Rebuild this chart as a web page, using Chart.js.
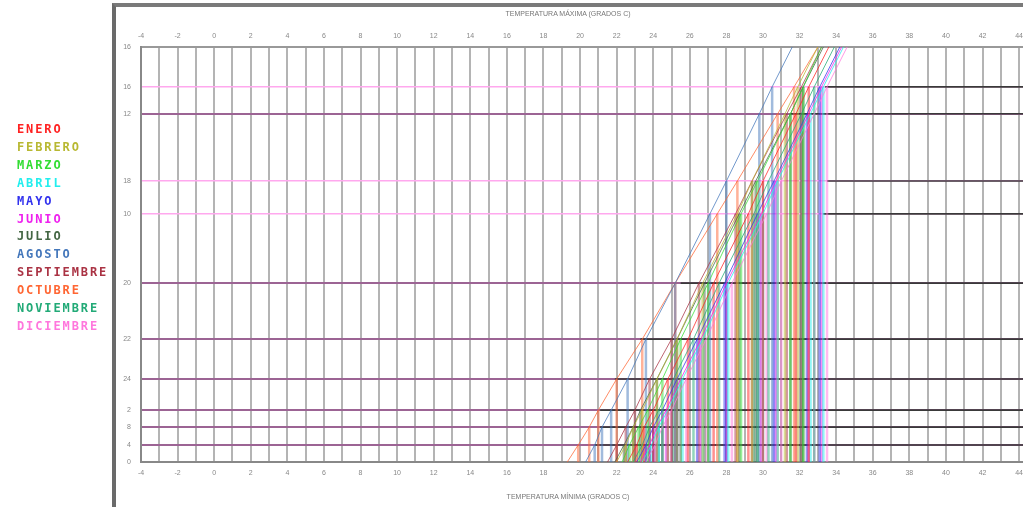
<!DOCTYPE html>
<html>
<head>
<meta charset="utf-8">
<script src="https://cdn.jsdelivr.net/npm/chart.js@4.4.1/dist/chart.umd.min.js"></script>
<style>
  html, body { margin:0; padding:0; background:#fff; overflow:hidden; width:1023px; height:507px; }
  #wrap { position:relative; width:1023px; height:507px; overflow:hidden; }
  #c { position:absolute; left:0; top:0; }
  #frame { position:absolute; left:112px; top:3px; width:1000px; height:500px;
           border-left:4px solid #6a6a6a; border-top:4px solid #7a7a7a; border-bottom:2px solid #9a9a9a; }
  .ttl { position:absolute; font-family:"Liberation Sans", Arial, sans-serif; font-size:7px; color:#777;
         width:300px; text-align:center; left:418px; white-space:nowrap; }
  #legend { position:absolute; left:17px; top:121px; font-family:"DejaVu Sans Mono", monospace;
            font-weight:bold; font-size:12px; letter-spacing:1.9px; line-height:17.9px; }
</style>
</head>
<body>
<div id="wrap">
  <canvas id="c" width="1090" height="507"></canvas>
  <div id="frame"></div>
  <div class="ttl" style="top:10px;">TEMPERATURA MÁXIMA (GRADOS C)</div>
  <div class="ttl" style="top:493px;">TEMPERATURA MÍNIMA (GRADOS C)</div>
  <div id="legend"></div>
</div>
<script>
// ---- data ----
const months = ['ENERO','FEBRERO','MARZO','ABRIL','MAYO','JUNIO','JULIO','AGOSTO','SEPTIEMBRE','OCTUBRE','NOVIEMBRE','DICIEMBRE'];
const monthColors = ['#ff2222','#b8b832','#33dd33','#22eeee','#3333ee','#ee22ee','#446644','#4477bb','#aa3344','#ff6633','#22aa77','#ff77dd'];

// positions of the horizontal levels on the vertical axis and their printed labels
const levelValues = [0, 4.1, 8.4, 12.5, 20, 29.6, 43.1, 59.8, 67.7, 83.9, 90.4, 100];
const levelLabels = ['0','4','8','2','24','22','20','10','18','12','16','16'];
const levelKind   = ['edge','purple','purple','purple','purple','purple','purple','pink','pink','purple','pink','edge'];

// x (temperature) of each month's line at every level
const ENERO      = [22.6, 23.1, 23.5, 24.0, 24.8, 25.9, 27.3, 29.2, 30.0, 31.8, 32.5, 33.6];
const FEBRERO    = [22.0, 22.5, 22.9, 23.4, 24.2, 25.3, 26.7, 28.6, 29.4, 31.2, 31.9, 33.0];
const MARZO      = [22.3, 22.7, 23.2, 23.7, 24.5, 25.5, 27.0, 28.8, 29.7, 31.5, 32.2, 33.2];
const ABRIL      = [23.4, 23.9, 24.3, 24.8, 25.6, 26.7, 28.1, 30.0, 30.8, 32.6, 33.3, 34.4];
const MAYO       = [23.1, 23.6, 24.0, 24.5, 25.3, 26.4, 27.9, 29.7, 30.6, 32.4, 33.1, 34.2];
const JUNIO      = [23.3, 23.8, 24.2, 24.7, 25.5, 26.6, 28.0, 29.9, 30.7, 32.5, 33.2, 34.3];
const JULIO      = [21.9, 22.4, 22.9, 23.3, 24.2, 25.3, 26.8, 28.7, 29.6, 31.5, 32.2, 33.3];
const AGOSTO     = [20.3, 20.8, 21.2, 21.7, 22.6, 23.6, 25.2, 27.1, 28.0, 29.8, 30.5, 31.6];
const SEPTIEMBRE = [21.5, 22.0, 22.5, 23.0, 23.8, 25.0, 26.5, 28.5, 29.4, 31.3, 32.1, 33.2];
const OCTUBRE    = [19.3, 19.9, 20.5, 21.0, 22.0, 23.4, 25.2, 27.5, 28.6, 30.8, 31.7, 33.0];
const NOVIEMBRE  = [22.9, 23.4, 23.8, 24.3, 25.1, 26.2, 27.6, 29.5, 30.3, 32.1, 32.8, 33.9];
const DICIEMBRE  = [23.6, 24.1, 24.5, 25.0, 25.8, 26.9, 28.3, 30.2, 31.0, 32.8, 33.5, 34.6];
const monthSeries = [ENERO, FEBRERO, MARZO, ABRIL, MAYO, JUNIO, JULIO, AGOSTO, SEPTIEMBRE, OCTUBRE, NOVIEMBRE, DICIEMBRE];

// where the dark part of each horizontal level line starts (null = none)
const darkStart = [null, 20.8, 21.1, 21.1, 21.9, 23.3, 25.5, 33.3, 33.5, 31.5, 33.4, null];

const xMin = -4, xMax = 47;

// ---- legend ----
const lg = document.getElementById('legend');
months.forEach((m, i) => {
  const d = document.createElement('div');
  d.textContent = m; d.style.color = monthColors[i];
  lg.appendChild(d);
});

// ---- datasets ----
function hexA(hex, a) {
  const n = parseInt(hex.slice(1), 16);
  return `rgba(${(n>>16)&255},${(n>>8)&255},${n&255},${a})`;
}
const datasets = [];
const darkPts = [];
levelValues.forEach((v, i) => {
  if (darkStart[i] === null) return;
  darkPts.push({x: darkStart[i], y: v}, {x: xMax, y: v}, {x: xMax, y: null});
});
datasets.push({ data: darkPts, borderColor: '#3a3a3a', borderWidth: 1.6, pointRadius: 0, spanGaps: false, order: 3 });

monthSeries.forEach((xs, i) => {
  const drops = [];
  for (let k = 1; k < levelValues.length - 1; k++) {
    drops.push({x: xs[k], y: 0}, {x: xs[k], y: levelValues[k]}, {x: xs[k], y: null});
  }
  datasets.push({ data: drops, borderColor: hexA(monthColors[i], 0.5), borderWidth: 2.5,
                  pointRadius: 0, spanGaps: false, order: 2 });
  datasets.push({ label: months[i], data: xs.map((x, k) => ({x, y: levelValues[k]})),
                  borderColor: hexA(monthColors[i], 0.75), borderWidth: 1, pointRadius: 0, order: 1 });
});

const tickFont = { family: '"Liberation Sans", Arial, sans-serif', size: 7 };
const xTickCb = (v) => (Math.round(v) % 2 === 0 ? String(v) : '');

new Chart(document.getElementById('c'), {
  type: 'line',
  data: { datasets },
  options: {
    responsive: false, animation: false, events: [],
    layout: { padding: { left: 0, right: 16, top: 0, bottom: 0 } },
    plugins: { legend: { display: false }, tooltip: { enabled: false } },
    scales: {
      x: {
        type: 'linear', position: 'bottom', min: xMin, max: xMax,
        afterFit: (s) => { s.height = 45; },
        ticks: { stepSize: 1, autoSkip: false, maxRotation: 0, padding: 7, color: '#888', font: tickFont, callback: xTickCb },
        grid: { color: '#b4b4b4', lineWidth: 2, drawTicks: false },
        border: { color: '#888', width: 2 }
      },
      x2: {
        type: 'linear', position: 'top', min: xMin, max: xMax,
        afterFit: (s) => { s.height = 47; },
        ticks: { stepSize: 1, autoSkip: false, maxRotation: 0, padding: 7, color: '#888', font: tickFont, callback: xTickCb },
        grid: { drawOnChartArea: false, drawTicks: false },
        border: { color: '#999', width: 2 }
      },
      y: {
        type: 'linear', min: 0, max: 100,
        afterFit: (s) => { s.width = 141; },
        afterBuildTicks: (s) => { s.ticks = levelValues.map(v => ({ value: v })); },
        ticks: { padding: 10, color: '#888', font: tickFont, callback: (v, i) => levelLabels[i] },
        grid: {
          drawTicks: false,
          color: (ctx) => { const k = levelKind[ctx.index]; return k === 'pink' ? '#ffa8ee' : (k === 'purple' ? '#9c6494' : '#999'); },
          lineWidth: (ctx) => (levelKind[ctx.index] === 'pink' ? 1.4 : 2)
        },
        border: { color: '#888', width: 2 }
      }
    }
  }
});
</script>
</body>
</html>
